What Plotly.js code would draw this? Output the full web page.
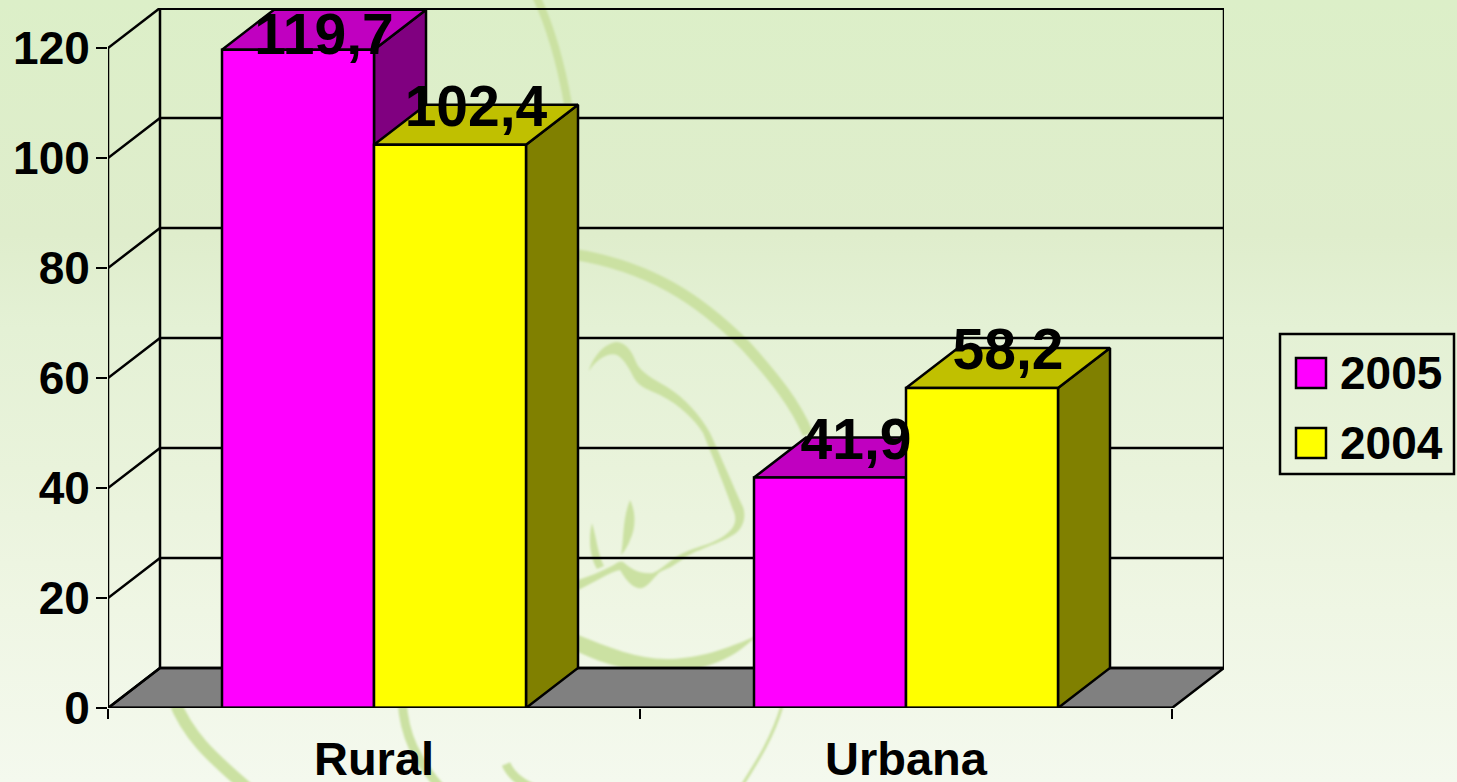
<!DOCTYPE html>
<html>
<head>
<meta charset="utf-8">
<script src="https://cdn.plot.ly/plotly-3.0.1.min.js"></script>
<style>
html,body{margin:0;padding:0;width:1457px;height:782px;overflow:hidden;
background:linear-gradient(180deg,#dcefc8 0%,#dfedcc 30%,#e4f1d5 42%,#e9f3db 60%,#eff6e4 78%,#f4f9ee 100%);}
#wm{position:absolute;left:0;top:0;}
#chart{position:absolute;left:0;top:0;width:1457px;height:782px;}
</style>
</head>
<body>
<svg id="wm" width="1457" height="782" fill="none" stroke="#cbe1a2" stroke-linecap="butt" stroke-linejoin="round">
  <defs><filter id="soft" x="-5%" y="-5%" width="110%" height="110%"><feGaussianBlur stdDeviation="1"/></filter></defs>
  <g filter="url(#soft)">
  <path d="M536,-4 C552,30 562,70 568,104" stroke-width="8"/>
  <path d="M572,254 C650,266 700,300 745,345 C775,378 796,405 808,434" stroke-width="11"/>
  <path fill="#cbe1a2" stroke="none" d="M578,652 C620,672 670,680 710,665 C730,658 745,648 756,636 C735,645 705,658 670,659 C640,660 610,648 578,635 Z"/>
  <path fill="#cbe1a2" stroke="none" d="M589,371 C592,358 604,343 617,342 C627,343 632,352 636,362 C640,372 655,380 667,387 C685,398 700,415 710,433 C718,450 735,490 743,507 C747,518 742,530 733,535 C722,542 708,546 700,550 C690,553 682,560 677,563 C668,570 660,570 657,575 C650,582 645,590 638,588 C630,586 625,578 620,570 C610,572 595,582 578,590 L578,580 C590,576 600,572 610,567 C616,564 620,560 623,562 C630,568 640,575 653,573 C660,570 665,565 672,560 C680,553 695,548 705,545 C715,542 728,535 733,527 C737,520 735,514 733,510 C728,495 712,455 703,433 C695,420 680,405 660,395 C650,390 640,388 634,378 C630,370 625,360 617,355 C608,352 596,360 589,371 Z"/>
  <path fill="#cbe1a2" stroke="none" d="M630,500 C636,512 636,528 630,540 C628,546 624,552 621,555 C624,540 622,520 630,500 Z"/>
  <path fill="#cbe1a2" stroke="none" d="M592,523 C597,540 598,555 604,566 L597,569 C590,558 588,538 592,523 Z"/>
  <path d="M174,700 C190,742 222,765 255,795" stroke-width="12"/>
  <path d="M402,700 C404,735 415,760 447,795" stroke-width="9"/>
  <path d="M506,764 C512,778 525,785 542,792" stroke-width="9"/>
  <path d="M782,706 C772,740 755,765 736,795" stroke-width="3"/>
  </g>
</svg>
<div id="chart"></div>
<script>
var categories = ["Rural", "Urbana"];
var seriesNames = ["2005", "2004"];
var values2005 = [119.7, 41.9];
var values2004 = [102.4, 58.2];
var valueLabels2005 = ["119,7", "41,9"];
var valueLabels2004 = ["102,4", "58,2"];
var yTicks = [0, 20, 40, 60, 80, 100, 120];

var frontColors = ["#ff00ff", "#ffff00"];
var topColors = ["#c000c0", "#c0c000"];
var sideColors = ["#800080", "#808000"];

// Oblique projection of the depth, expressed in axis units.
var pxPerCat = 532, pxPerVal = 5.5;
var dx = 52 / pxPerCat, dy = 40 / pxPerVal;
var gap = 0.42857, barW = (1 - gap) / 2;
var xMin = -0.5, xMax = 1.5;
var black = "#000000";
var LW = 2.5;
var labelDrop = 7 / pxPerVal, labelCeil = 121.5;
var traces = [];

function poly(xs, ys, fill) {
  traces.push({type:"scatter", mode:"lines", x:xs, y:ys, fill:"toself", fillcolor:fill,
    line:{color:black, width:LW}, cliponaxis:false, showlegend:false, hoverinfo:"skip"});
}
function lines(xs, ys, w, sub) {
  var t = {type:"scatter", mode:"lines", x:xs, y:ys, line:{color:black, width:w},
    connectgaps:false, cliponaxis:false, showlegend:false, hoverinfo:"skip"};
  if (sub) { t.xaxis = "x2"; t.yaxis = "y2"; }
  traces.push(t);
}

// Floor
poly([xMin, xMin+dx, xMax+dx, xMax, xMin], [0, dy, dy, 0, 0], "#808080");

// Walls and gridlines
var gx = [], gy = [];
yTicks.slice(0, -1).forEach(function(v){
  gx.push(xMin, xMin+dx, xMax+dx, null);
  gy.push(v, v+dy, v+dy, null);
});
lines(gx, gy, LW);
var topV = yTicks[yTicks.length-1];
lines([xMin, xMin+dx], [topV, topV+dy], LW);
lines([xMin+dx, xMax+dx], [topV+dy, topV+dy], 4);
lines([xMin, xMin, null, xMin+dx, xMin+dx, null, xMax+dx, xMax+dx],
      [0, topV, null, dy, topV+dy, null, dy, topV+dy], LW);

// Top and side faces of every bar, painted behind the fronts
[values2005, values2004].forEach(function(vals, s){
  vals.forEach(function(v, c){
    var x0 = c - barW + s*barW, x1 = x0 + barW;
    poly([x1, x1+dx, x1+dx, x1, x1], [0, dy, v+dy, v, 0], sideColors[s]);
    poly([x0, x0+dx, x1+dx, x1, x0], [v, v+dy, v+dy, v, v], topColors[s]);
  });
});

// Bar fronts
[values2005, values2004].forEach(function(vals, s){
  traces.push({type:"bar", name:seriesNames[s], x:[0,1], y:vals, xaxis:"x2", yaxis:"y2",
    marker:{color:frontColors[s], line:{color:black, width:LW}}, showlegend:false, hoverinfo:"skip"});
});

// Front baseline
lines([xMin, xMax], [0, 0], 3, true);

// Value labels
[[values2005, valueLabels2005], [values2004, valueLabels2004]].forEach(function(pair, s){
  traces.push({type:"scatter", mode:"text", xaxis:"x2", yaxis:"y2",
    x:pair[0].map(function(v, c){ return c - barW/2 + s*barW + dx/2; }),
    y:pair[0].map(function(v){ return Math.min(v + dy - labelDrop, labelCeil); }),
    text:pair[1], textposition:"middle center",
    textfont:{family:"Liberation Sans, Arial, sans-serif", size:57, color:black, weight:700},
    cliponaxis:false, showlegend:false, hoverinfo:"skip"});
});

var W = 1116, H = 700, L = 108, T = 8;
function px(x){ return (x-L)/W; }
function py(y){ return 1-(y-T)/H; }
var font46 = {family:"Liberation Sans, Arial, sans-serif", size:46, color:black, weight:700};
var font47 = {family:"Liberation Sans, Arial, sans-serif", size:47, color:black, weight:700};

var legendShapes = [
  {type:"rect", xref:"paper", yref:"paper", x0:px(1280), x1:px(1454), y0:py(334), y1:py(474),
   line:{color:black, width:2.5}, fillcolor:"rgba(0,0,0,0)", layer:"above"}
];
var legendAnn = [];
seriesNames.forEach(function(n, i){
  var top = 358 + i*70;
  legendShapes.push({type:"rect", xref:"paper", yref:"paper", x0:px(1296), x1:px(1326),
    y0:py(top), y1:py(top+30), line:{color:black, width:2.5}, fillcolor:frontColors[i], layer:"above"});
  legendAnn.push({xref:"paper", yref:"paper", x:px(1339), y:py(top+15), text:n, showarrow:false,
    xanchor:"left", yanchor:"middle", font:font46, borderpad:0});
});

var layout = {
  width:1457, height:782, autosize:false,
  margin:{l:L, r:1457-L-W, t:T, b:782-T-H, pad:0},
  paper_bgcolor:"rgba(0,0,0,0)", plot_bgcolor:"rgba(0,0,0,0)",
  barmode:"group", bargap:gap, bargroupgap:0, hovermode:false, showlegend:false,
  xaxis:{range:[xMin, xMax+dx], tickmode:"array", tickvals:[0,1], ticktext:categories,
    ticks:"", showgrid:false, zeroline:false, showline:false, tickfont:font47, ticklabelstandoff:19, fixedrange:true},
  yaxis:{range:[0, topV+dy], tickmode:"array", tickvals:yTicks, ticktext:yTicks.map(String),
    ticks:"outside", ticklen:11, tickwidth:2.5, tickcolor:black,
    showgrid:false, zeroline:false, showline:false, tickfont:font46, ticklabelstandoff:-3, fixedrange:true},
  xaxis2:{range:[xMin, xMax+dx], overlaying:"x", anchor:"y2", tickmode:"array", tickvals:[-0.5,0.5,1.5],
    ticktext:["","",""], ticks:"outside", ticklen:10, tickwidth:2.5, tickcolor:black,
    showgrid:false, zeroline:false, showline:false, fixedrange:true},
  yaxis2:{range:[0, topV+dy], overlaying:"y", anchor:"x2", showticklabels:false, ticks:"",
    showgrid:false, zeroline:false, showline:false, fixedrange:true},
  shapes:legendShapes, annotations:legendAnn
};
Plotly.newPlot("chart", traces, layout, {displayModeBar:false, staticPlot:true});
</script>
</body>
</html>
